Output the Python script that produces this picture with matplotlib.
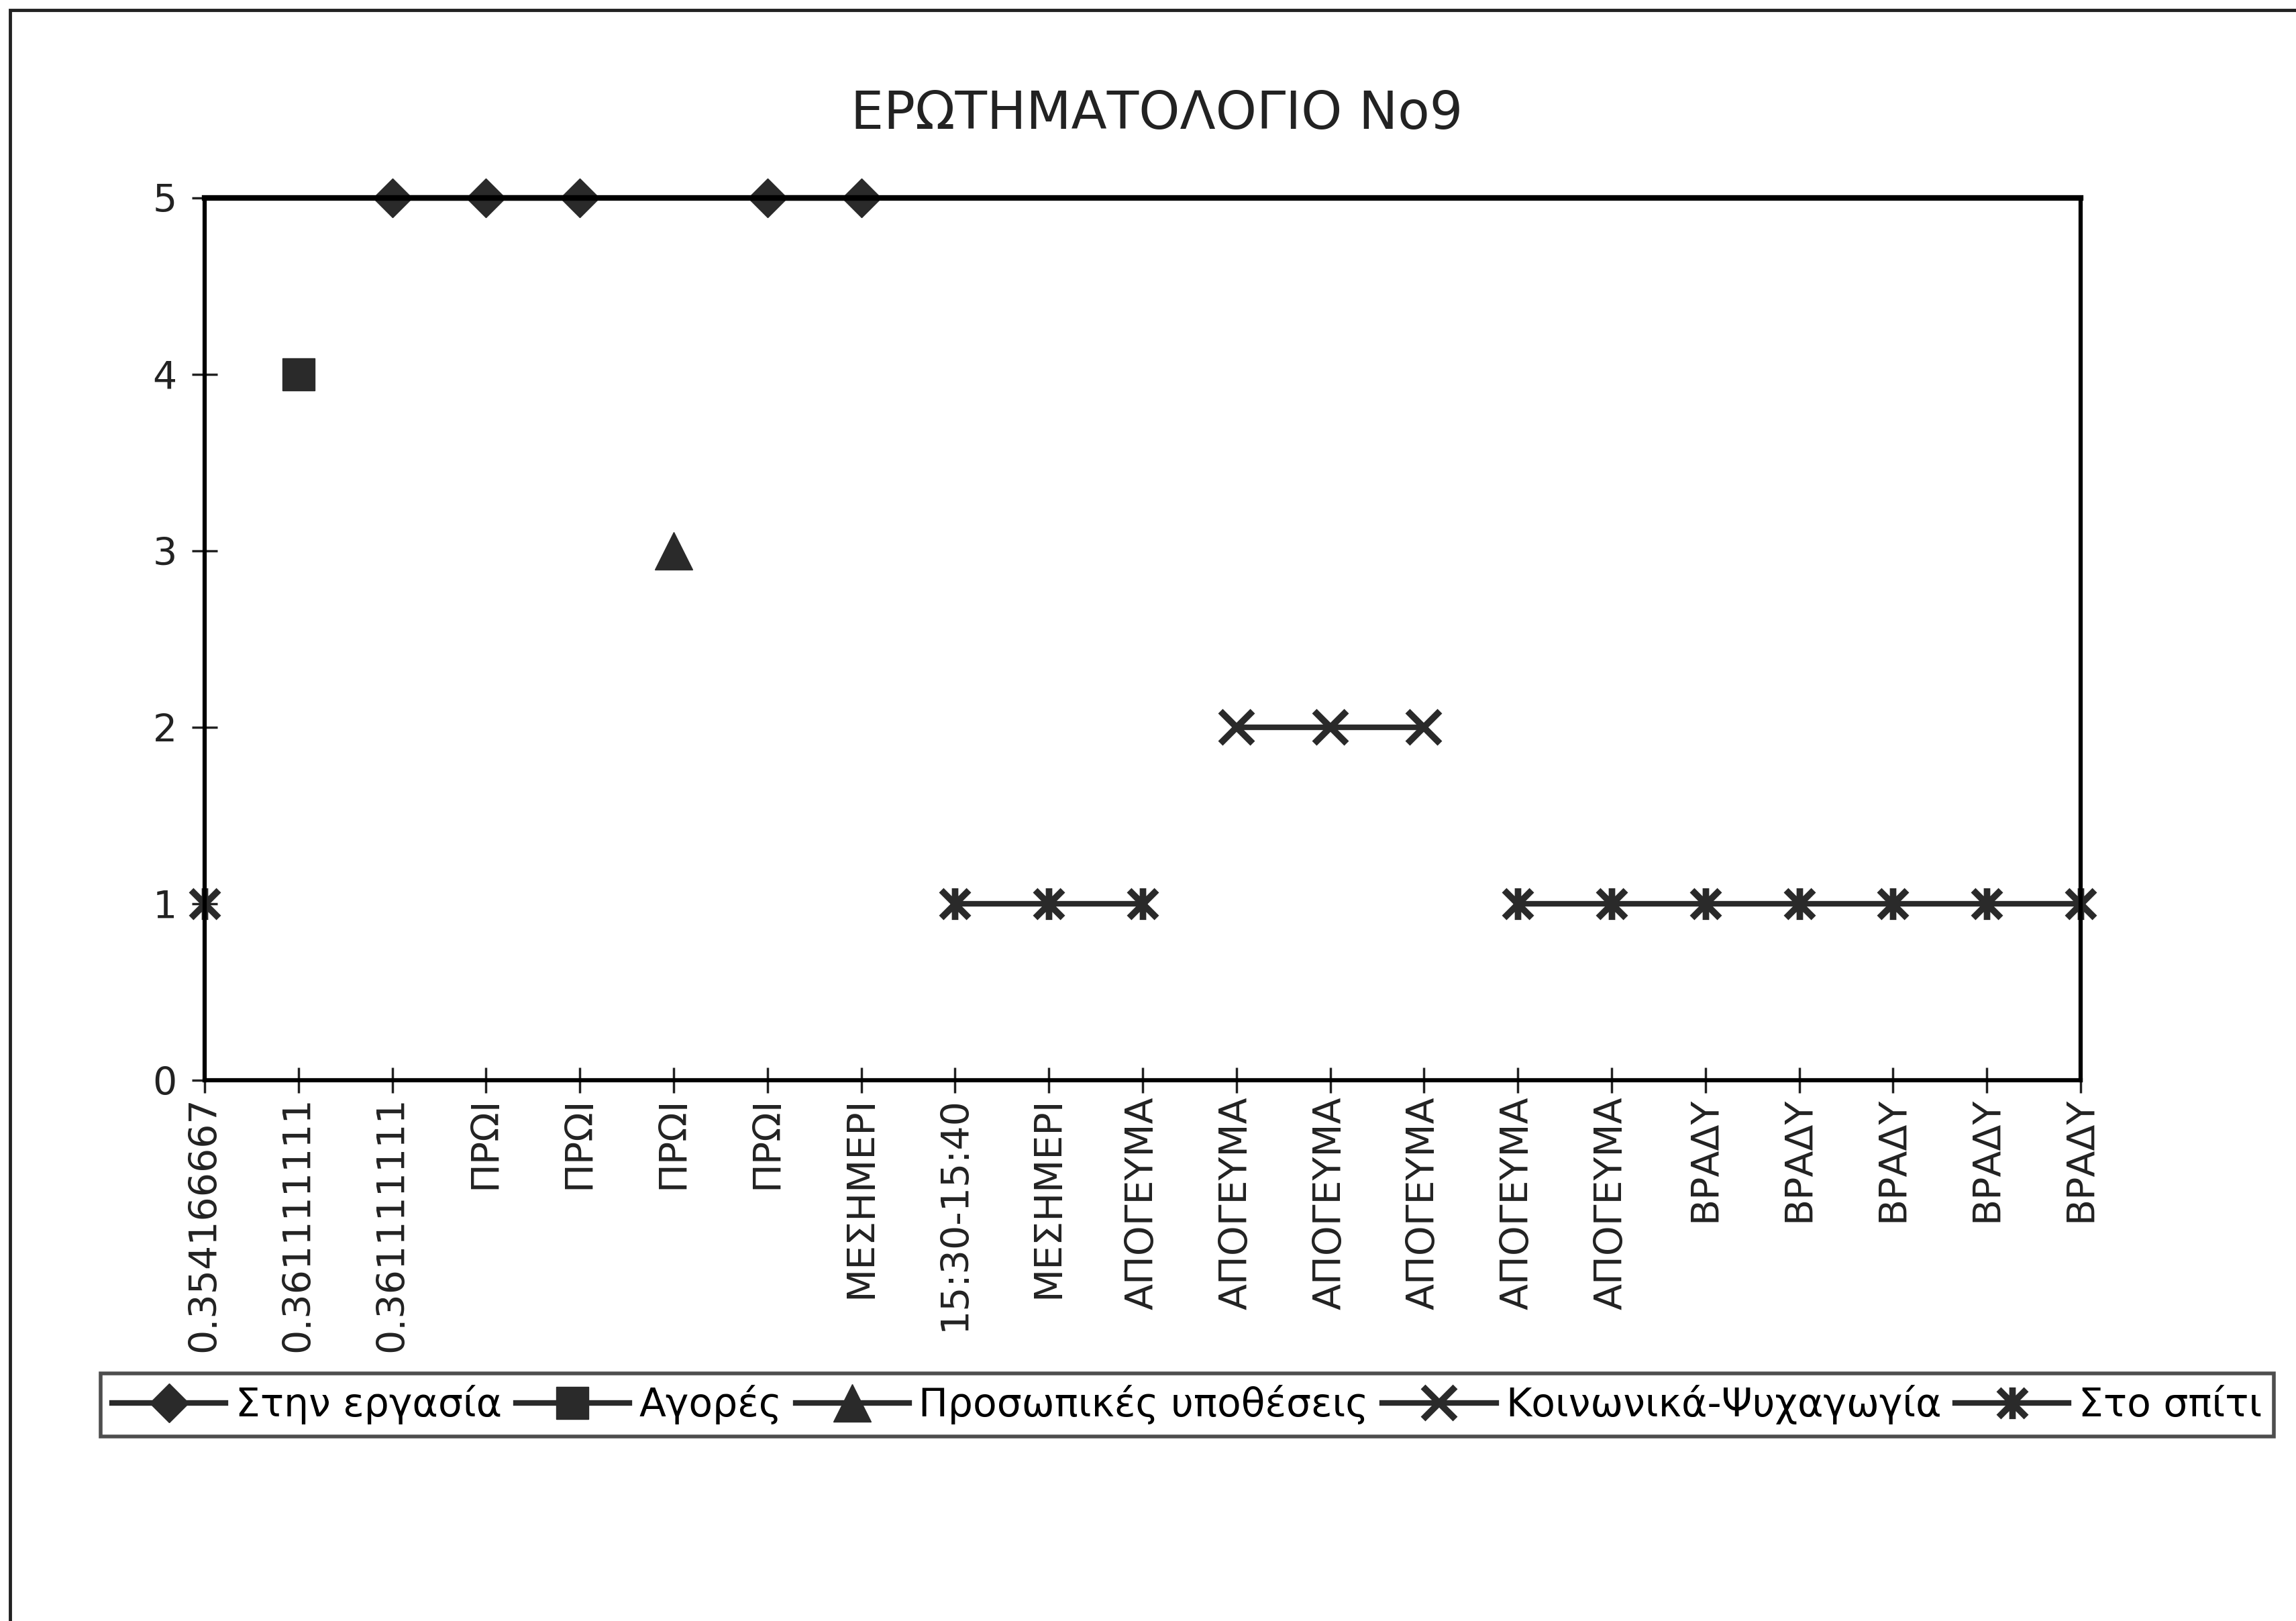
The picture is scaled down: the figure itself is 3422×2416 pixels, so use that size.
#!/usr/bin/env python3
"""Questionnaire No9 chart - activity per time slot."""

import numpy as np
import matplotlib.pyplot as plt
from matplotlib.path import Path
from matplotlib.patches import Rectangle

TITLE = 'ΕΡΩΤΗΜΑΤΟΛΟΓΙΟ Νο9'

categories = [
    '0.354166667', '0.361111111', '0.361111111',
    'ΠΡΩΙ', 'ΠΡΩΙ', 'ΠΡΩΙ', 'ΠΡΩΙ',
    'ΜΕΣΗΜΕΡΙ', '15:30-15:40', 'ΜΕΣΗΜΕΡΙ',
    'ΑΠΟΓΕΥΜΑ', 'ΑΠΟΓΕΥΜΑ', 'ΑΠΟΓΕΥΜΑ', 'ΑΠΟΓΕΥΜΑ', 'ΑΠΟΓΕΥΜΑ', 'ΑΠΟΓΕΥΜΑ',
    'ΒΡΑΔΥ', 'ΒΡΑΔΥ', 'ΒΡΑΔΥ', 'ΒΡΑΔΥ', 'ΒΡΑΔΥ',
]

nan = np.nan
work = [nan, nan, 5, 5, 5, nan, 5, 5, nan, nan, nan,
        nan, nan, nan, nan, nan, nan, nan, nan, nan, nan]
shopping = [nan, 4, nan, nan, nan, nan, nan, nan, nan, nan, nan,
            nan, nan, nan, nan, nan, nan, nan, nan, nan, nan]
personal = [nan, nan, nan, nan, nan, 3, nan, nan, nan, nan, nan,
            nan, nan, nan, nan, nan, nan, nan, nan, nan, nan]
social = [nan, nan, nan, nan, nan, nan, nan, nan, nan, nan, nan,
          2, 2, 2, nan, nan, nan, nan, nan, nan, nan]
home = [1, nan, nan, nan, nan, nan, nan, nan, 1, 1, 1,
        nan, nan, nan, 1, 1, 1, 1, 1, 1, 1]

labels = ['Στην εργασία', 'Αγορές', 'Προσωπικές υποθέσεις',
          'Κοινωνικά-Ψυχαγωγία', 'Στο σπίτι']

# Excel-style asterisk: an X with a vertical bar through it
ASTER = Path([(-1, -1), (1, 1), (-1, 1), (1, -1), (0, -1.15), (0, 1.15)],
             [Path.MOVETO, Path.LINETO, Path.MOVETO, Path.LINETO,
              Path.MOVETO, Path.LINETO])

INK = '#2a2a2a'


def main():
    plt.rcParams['font.family'] = ['DejaVu Sans']
    fig = plt.figure(figsize=(34.22, 24.16), dpi=100)

    # outer chart-area border (right and bottom edges fall off the page)
    fig.patches.append(Rectangle((15 / 3422, -0.1), 1.2, 1.1 - 15 / 2416,
                                 transform=fig.transFigure, fill=False,
                                 edgecolor='#222222', lw=3.5))

    ax = fig.add_axes([0.0891, 0.3336, 0.8171, 0.5443])
    x = np.arange(len(categories))

    style = dict(color=INK, lw=6, clip_on=False)
    ax.plot(x, work, marker='D', ms=30, label=labels[0], **style)
    ax.plot(x, shopping, marker='s', ms=35, label=labels[1], **style)
    ax.plot(x, personal, marker='^', ms=40, label=labels[2], **style)
    ax.plot(x, social, marker='x', ms=34, mew=7, label=labels[3], **style)
    ax.plot(x, home, marker=ASTER, ms=34, mew=7, label=labels[4], **style)

    ax.set_xlim(0, len(categories) - 1)
    ax.set_ylim(0, 5)
    ax.set_yticks(range(6))
    ax.set_xticks(x)
    ax.set_xticklabels(categories, rotation=90)

    ax.tick_params(axis='both', direction='inout', length=27, width=2.5,
                   labelsize=41, colors='#222222')
    ax.tick_params(axis='y', pad=16)
    ax.tick_params(axis='x', pad=4)
    for side in ['left', 'right', 'bottom']:
        ax.spines[side].set_linewidth(4.5)
    ax.spines['top'].set_linewidth(6)

    fig.text(0.5038, 0.9296, TITLE, ha='center', va='center', fontsize=56,
             color='#222222')

    leg = fig.legend(loc='center', bbox_to_anchor=(0.517, 0.1333), ncol=5,
                     fontsize=42, frameon=True, fancybox=False,
                     handlelength=2.9, handletextpad=0.25, columnspacing=0.35,
                     borderpad=0.3, borderaxespad=0)
    leg.get_frame().set_edgecolor('#222222')
    leg.get_frame().set_linewidth(4)

    plt.savefig('out.png', dpi=100, facecolor='white')


if __name__ == '__main__':
    main()
